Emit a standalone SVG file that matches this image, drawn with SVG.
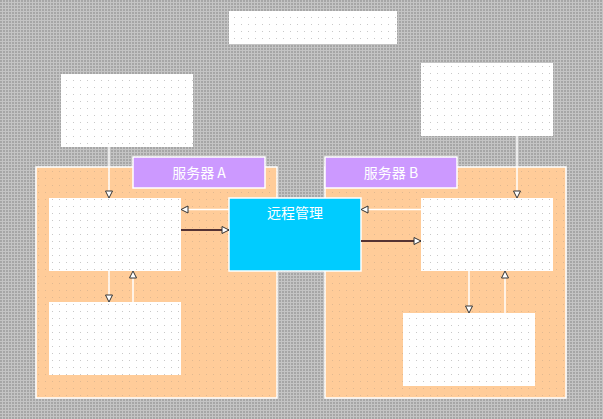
<svg xmlns="http://www.w3.org/2000/svg" width="603" height="419" viewBox="0 0 603 419">
<defs>
<pattern id="bg" width="3" height="3" patternUnits="userSpaceOnUse"><rect width="3" height="3" fill="#c4c4c4"/><rect width="2" height="2" fill="#a6a6a6"/></pattern>
<pattern id="wdots" width="7" height="7" patternUnits="userSpaceOnUse"><rect width="7" height="7" fill="#ffffff"/><rect x="3" y="3" width="1" height="1" fill="#c8c8c8"/></pattern>
<pattern id="odots" width="7" height="7" patternUnits="userSpaceOnUse"><rect width="7" height="7" fill="#ffcc99"/><rect x="3" y="3" width="1" height="1" fill="#e0b890"/></pattern>
<marker id="ah" markerWidth="10" markerHeight="10" refX="8" refY="4" orient="auto" markerUnits="userSpaceOnUse"><path d="M1,0.5 L8,4 L1,7.5 Z" fill="#ffffff" stroke="#333333" stroke-width="1"/></marker>
</defs>
<style>
.box{fill:url(#wdots);}
.cont{fill:url(#odots);stroke:#ffffff;stroke-width:1.5;}
.lbl{fill:#cc99ff;stroke:#ffffff;stroke-width:1.5;}
.txt{font-family:"Noto Sans CJK SC","Liberation Sans",sans-serif;font-size:14px;fill:#ffffff;text-anchor:middle;}
.wl{stroke:#ffffff;stroke-width:1.5;fill:none;marker-end:url(#ah);}
.dl{stroke:#553333;stroke-width:2;fill:none;marker-end:url(#ah);}
</style>
<rect width="603" height="419" fill="url(#bg)"/>
<g id="top-box"><rect class="box" x="229" y="11" width="168" height="33"/></g>
<g id="client-a"><rect class="box" x="61" y="74" width="132" height="73"/></g>
<g id="client-b"><rect class="box" x="421" y="63" width="132" height="73"/></g>
<g id="server-a">
<rect class="cont" x="36" y="167" width="241" height="231"/>
<rect class="lbl" x="133" y="157" width="132" height="31"/>
<text class="txt" x="199" y="178">服务器 A</text>
</g>
<g id="server-b">
<rect class="cont" x="325" y="167" width="241" height="231"/>
<rect class="lbl" x="325" y="157" width="132" height="31"/>
<text class="txt" x="391" y="178">服务器 B</text>
</g>
<g id="a1"><rect class="box" x="49" y="198" width="132" height="73"/></g>
<g id="a2"><rect class="box" x="49" y="302" width="132" height="73"/></g>
<g id="b1"><rect class="box" x="421" y="198" width="132" height="73"/></g>
<g id="b2"><rect class="box" x="403" y="313" width="132" height="73"/></g>
<g id="remote">
<rect x="229" y="198" width="132" height="73" fill="#00ccff" stroke="#ffffff" stroke-width="1.5"/>
<text class="txt" x="295" y="218">远程管理</text>
</g>
<g id="connectors">
<line class="wl" x1="109" y1="147" x2="109" y2="198"/>
<line class="wl" x1="109" y1="271" x2="109" y2="302"/>
<line class="wl" x1="133" y1="302" x2="133" y2="271"/>
<line class="wl" x1="229" y1="209.5" x2="181" y2="209.5"/>
<line class="dl" x1="181" y1="230" x2="229" y2="230"/>
<line class="wl" x1="517" y1="136" x2="517" y2="198"/>
<line class="wl" x1="421" y1="209.5" x2="361" y2="209.5"/>
<line class="dl" x1="361" y1="241" x2="421" y2="241"/>
<line class="wl" x1="469" y1="271" x2="469" y2="313"/>
<line class="wl" x1="505" y1="313" x2="505" y2="271"/>
</g>
</svg>
